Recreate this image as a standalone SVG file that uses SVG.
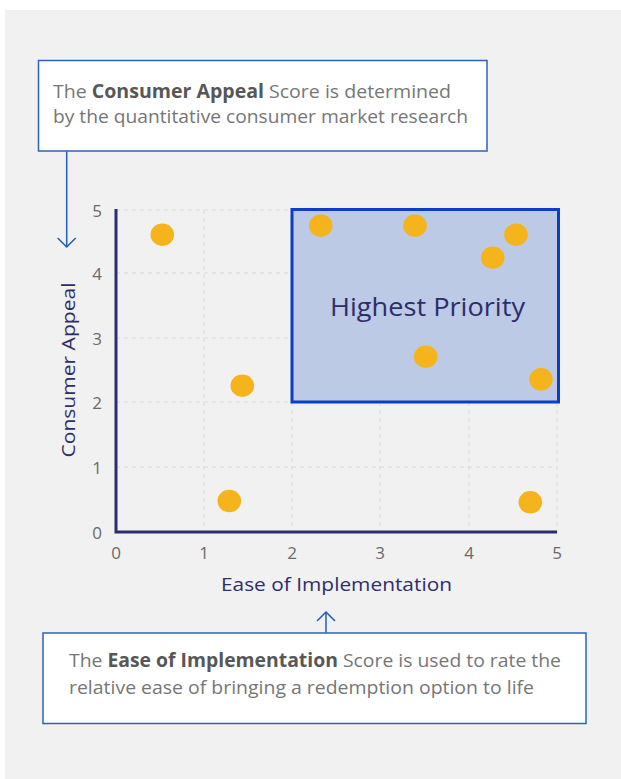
<svg xmlns="http://www.w3.org/2000/svg" width="621" height="779" viewBox="0 0 621 779">
<defs>
<style>
.note{fill:#ffffff;stroke:#2b63b9;stroke-width:1.5}
.nt{font-family:"Open Sans","Noto Sans",sans-serif;font-size:19px;fill:#767676}
.nt tspan.b{font-weight:bold;fill:#575757}
.grid{stroke:#dadada;stroke-width:1;stroke-dasharray:4 4;fill:none}
.axis{stroke:#2e2d6b;stroke-width:3;fill:none}
.tick{font-family:"Open Sans","Noto Sans",sans-serif;font-size:17px;fill:#6a6a6a}
.title{font-family:"Open Sans","Noto Sans",sans-serif;font-size:19px;fill:#2e2d6b}
.dot{fill:#f5b41b}
.conn{stroke:#1f5db4;stroke-width:1.5;fill:none}
</style>
<marker id="arr" viewBox="0 0 20 20" refX="11" refY="10" markerWidth="20" markerHeight="20" markerUnits="userSpaceOnUse" orient="auto">
<path d="M2,1 L11,10 L2,19" fill="none" stroke="#1f5db4" stroke-width="1.5"/>
</marker>
</defs>
<rect x="5" y="10" width="616" height="769" fill="#f1f1f1"/>

<g id="chart">
<g id="gridlines">
<path class="grid" d="M116,210H557M116,273H557M116,338H557M116,402H557M116,467H557"/>
<path class="grid" d="M204,210V532M292,210V532M380,210V532M469,210V532M557,210V532"/>
</g>
<g id="highest-priority">
<rect x="292" y="209.5" width="266.5" height="192.5" fill="#bccae6" stroke="#0a3fc4" stroke-width="3"/>
<text x="427.5" y="316" text-anchor="middle" font-family="'Open Sans','Noto Sans',sans-serif" font-size="26" fill="#2e2d6b" textLength="195" lengthAdjust="spacingAndGlyphs">Highest Priority</text>
</g>
<g id="axes">
<path class="axis" d="M116,209V532H557"/>
</g>
<g id="y-ticks" text-anchor="end">
<text class="tick" x="102" y="539">0</text>
<text class="tick" x="102" y="474">1</text>
<text class="tick" x="102" y="409">2</text>
<text class="tick" x="102" y="345">3</text>
<text class="tick" x="102" y="280">4</text>
<text class="tick" x="102" y="217">5</text>
</g>
<g id="x-ticks" text-anchor="middle">
<text class="tick" x="116" y="559">0</text>
<text class="tick" x="204" y="559">1</text>
<text class="tick" x="292" y="559">2</text>
<text class="tick" x="380" y="559">3</text>
<text class="tick" x="469" y="559">4</text>
<text class="tick" x="557" y="559">5</text>
</g>
<text id="x-title" class="title" x="336.5" y="591" text-anchor="middle" textLength="231" lengthAdjust="spacingAndGlyphs">Ease of Implementation</text>
<text id="y-title" class="title" x="0" y="0" text-anchor="middle" transform="translate(75,370) rotate(-90)" textLength="175" lengthAdjust="spacingAndGlyphs">Consumer Appeal</text>
<g id="points">
<ellipse class="dot" cx="162.3" cy="234.7" rx="11.8" ry="11.2"/>
<ellipse class="dot" cx="242.3" cy="385.7" rx="11.8" ry="11.2"/>
<ellipse class="dot" cx="229.3" cy="501" rx="11.8" ry="11.2"/>
<ellipse class="dot" cx="320.7" cy="225.7" rx="11.8" ry="11.2"/>
<ellipse class="dot" cx="415" cy="225.7" rx="11.8" ry="11.2"/>
<ellipse class="dot" cx="516" cy="234.7" rx="11.8" ry="11.2"/>
<ellipse class="dot" cx="492.7" cy="257.7" rx="11.8" ry="11.2"/>
<ellipse class="dot" cx="425.7" cy="356.7" rx="11.8" ry="11.2"/>
<ellipse class="dot" cx="541" cy="379.3" rx="11.8" ry="11.2"/>
<ellipse class="dot" cx="530.3" cy="502.3" rx="11.8" ry="11.2"/>
</g>
</g>

<g id="note-consumer-appeal">
<rect class="note" x="38.5" y="60.5" width="448.5" height="90.5"/>
<text class="nt" x="53" y="98" textLength="398" lengthAdjust="spacingAndGlyphs">The <tspan class="b">Consumer Appeal</tspan> Score is determined</text>
<text class="nt" x="53" y="123" textLength="415" lengthAdjust="spacingAndGlyphs">by the quantitative consumer market research</text>
</g>

<g id="note-ease">
<rect class="note" x="43" y="633" width="543" height="90.5"/>
<text class="nt" x="69" y="667" textLength="492" lengthAdjust="spacingAndGlyphs">The <tspan class="b">Ease of Implementation</tspan> Score is used to rate the</text>
<text class="nt" x="69" y="694" textLength="465" lengthAdjust="spacingAndGlyphs">relative ease of bringing a redemption option to life</text>
</g>

<g id="connectors">
<path class="conn" d="M66.7,151.5V247" marker-end="url(#arr)"/>
<path class="conn" d="M326,632.5V612" marker-end="url(#arr)"/>
</g>
</svg>
